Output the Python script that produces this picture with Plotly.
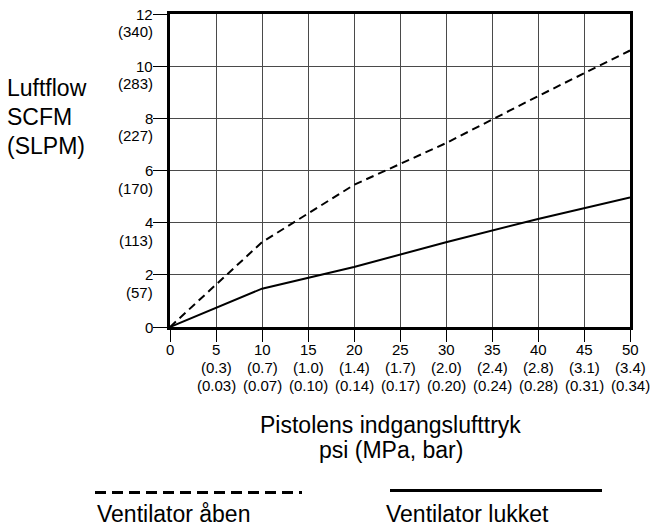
import plotly.graph_objects as go

# Air flow vs. gun inlet pressure
psi = [0, 10, 20, 30, 40, 50]
flow_open = [0, 3.25, 5.45, 7.05, 8.85, 10.6]     # SCFM, ventilator åben
flow_closed = [0, 1.47, 2.30, 3.25, 4.14, 4.97]   # SCFM, ventilator lukket

# Axis tick values and labels
y_ticks = [0, 2, 4, 6, 8, 10, 12]
y_scfm = ["0", "2", "4", "6", "8", "10", "12"]
y_slpm = ["", "(57)", "(113)", "(170)", "(227)", "(283)", "(340)"]

x_ticks = [0, 5, 10, 15, 20, 25, 30, 35, 40, 45, 50]
x_psi = ["0", "5", "10", "15", "20", "25", "30", "35", "40", "45", "50"]
x_mpa = ["", "(0.3)", "(0.7)", "(1.0)", "(1.4)", "(1.7)", "(2.0)", "(2.4)", "(2.8)", "(3.1)", "(3.4)"]
x_bar = ["", "(0.03)", "(0.07)", "(0.10)", "(0.14)", "(0.17)", "(0.20)", "(0.24)", "(0.28)", "(0.31)", "(0.34)"]

FONT = "Liberation Sans, Arial, Helvetica, sans-serif"
TICK_SIZE = 15
BIG_SIZE = 23

fig = go.Figure()
fig.add_trace(go.Scatter(x=psi, y=flow_open, mode="lines",
                         line=dict(color="black", width=2, dash="8px,5px"),
                         name="Ventilator åben", showlegend=False))
fig.add_trace(go.Scatter(x=psi, y=flow_closed, mode="lines",
                         line=dict(color="black", width=2),
                         name="Ventilator lukket", showlegend=False))

annotations = []
# y tick labels: SCFM on the tick, SLPM just below
for v, a, b in zip(y_ticks, y_scfm, y_slpm):
    annotations.append(dict(xref="paper", x=0, xanchor="right", xshift=-15,
                            yref="y", y=v, yanchor="middle", text=a,
                            showarrow=False, font=dict(size=TICK_SIZE)))
    if b:
        annotations.append(dict(xref="paper", x=0, xanchor="right", xshift=-15,
                                yref="y", y=v, yanchor="middle", yshift=-17.5, text=b,
                                showarrow=False, font=dict(size=TICK_SIZE)))
# x tick labels: psi, MPa, bar stacked
for v, a, b, c in zip(x_ticks, x_psi, x_mpa, x_bar):
    for txt, sh in ((a, -22), (b, -40), (c, -58)):
        if txt:
            annotations.append(dict(xref="x", x=v, xanchor="center",
                                    yref="paper", y=0, yanchor="middle", yshift=sh,
                                    text=txt, showarrow=False,
                                    font=dict(size=TICK_SIZE)))

# axis titles
for txt, sh in (("Pistolens indgangslufttryk", -98), ("psi (MPa, bar)", -123)):
    annotations.append(dict(xref="paper", x=0.48, xanchor="center",
                            yref="paper", y=0, yanchor="middle", yshift=sh,
                            text=txt, showarrow=False, font=dict(size=BIG_SIZE)))
for txt, yp in (("Luftflow", 85), ("SCFM", 114), ("(SLPM)", 143)):
    annotations.append(dict(xref="paper", x=0, xanchor="left", xshift=-165,
                            yref="paper", y=1, yanchor="middle", yshift=-(yp - 11),
                            text=txt, showarrow=False, font=dict(size=BIG_SIZE)))

# legend: line sample above its caption
W, H, L, T = 460, 316, 170, 11
def px(xp):
    return (xp - L) / W
def py(yp):
    return 1 - (yp - T) / H

shapes = [
    dict(type="line", xref="paper", yref="paper", x0=px(95), x1=px(302), y0=py(494), y1=py(494),
         line=dict(color="black", width=3, dash="11px,6px")),
    dict(type="line", xref="paper", yref="paper", x0=px(390), x1=px(602), y0=py(492), y1=py(492),
         line=dict(color="black", width=3)),
]
annotations.append(dict(xref="paper", x=px(95), xanchor="left", yref="paper", y=py(516),
                        yanchor="middle", text="Ventilator åben", showarrow=False,
                        font=dict(size=BIG_SIZE)))
annotations.append(dict(xref="paper", x=px(384), xanchor="left", yref="paper", y=py(516),
                        yanchor="middle", text="Ventilator lukket", showarrow=False,
                        font=dict(size=BIG_SIZE)))

axis_common = dict(showline=True, linecolor="black", linewidth=3, mirror=True,
                   ticks="outside", tickcolor="black", tickwidth=1,
                   showticklabels=False, showgrid=True, gridcolor="#4a4a4a",
                   gridwidth=1, zeroline=False, fixedrange=True)

fig.update_layout(
    width=651, height=531,
    margin=dict(l=L, r=651 - L - W, t=T, b=531 - T - H),
    paper_bgcolor="white", plot_bgcolor="white",
    font=dict(family=FONT, color="black"),
    xaxis=dict(range=[0, 50], tickvals=x_ticks, ticklen=12, **axis_common),
    yaxis=dict(range=[0, 12], tickvals=y_ticks, ticklen=14, **axis_common),
    annotations=annotations, shapes=shapes, showlegend=False,
)

fig.write_html("out.html")
